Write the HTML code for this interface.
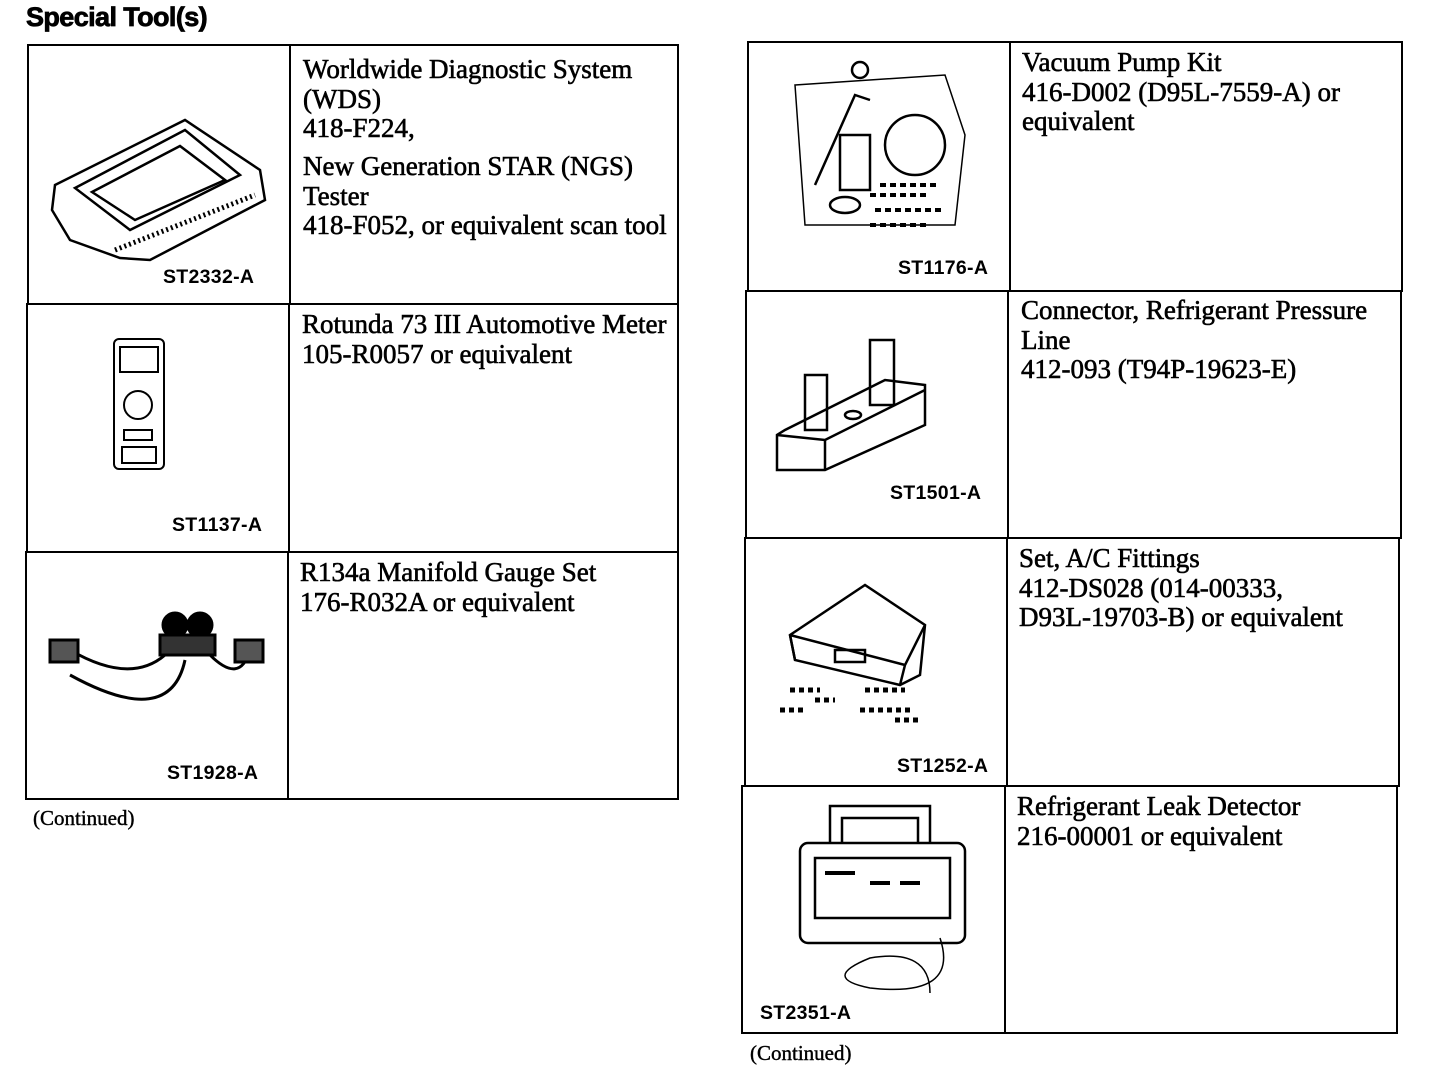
<!DOCTYPE html>
<html><head><meta charset="utf-8"><style>
body{margin:0;width:1440px;height:1090px;background:#fff;position:relative;overflow:hidden;font-family:"Liberation Serif",serif;color:#000}
.a{position:absolute}
.l{position:absolute;background:#000}
.t{position:absolute;font-size:27px;line-height:29.5px;letter-spacing:0px;-webkit-text-stroke:0.6px #000;white-space:nowrap}
.c{position:absolute;font-family:"Liberation Sans",sans-serif;font-weight:bold;font-size:19.5px;letter-spacing:0.3px}
.n{position:absolute;font-size:21px;-webkit-text-stroke:0.4px #000}
svg{position:absolute}
</style></head><body>
<div class="a" style="left:26px;top:2px;font-family:'Liberation Sans',sans-serif;font-weight:bold;font-size:27px;letter-spacing:-0.6px;-webkit-text-stroke:0.8px #000">Special Tool(s)</div>

<!-- left table -->
<div class="l" style="left:27px;top:44px;width:652px;height:2px"></div>
<div class="l" style="left:27px;top:303px;width:652px;height:2px"></div>
<div class="l" style="left:26px;top:551px;width:653px;height:2px"></div>
<div class="l" style="left:25px;top:798px;width:654px;height:2px"></div>
<div class="l" style="left:27px;top:44px;width:2px;height:260px"></div>
<div class="l" style="left:26px;top:303px;width:2px;height:250px"></div>
<div class="l" style="left:25px;top:551px;width:2px;height:249px"></div>
<div class="l" style="left:677px;top:44px;width:2px;height:756px"></div>
<div class="l" style="left:289px;top:44px;width:2px;height:260px"></div>
<div class="l" style="left:288px;top:303px;width:2px;height:250px"></div>
<div class="l" style="left:287px;top:551px;width:2px;height:249px"></div>

<div class="t" style="left:303px;top:55px">Worldwide Diagnostic System<br>(WDS)<br>418-F224,</div>
<div class="t" style="left:303px;top:152px">New Generation STAR (NGS)<br>Tester<br>418-F052, or equivalent scan tool</div>
<div class="t" style="left:302px;top:310px">Rotunda 73 III Automotive Meter<br>105-R0057 or equivalent</div>
<div class="t" style="left:300px;top:558px">R134a Manifold Gauge Set<br>176-R032A or equivalent</div>
<div class="c" style="left:163px;top:266px">ST2332-A</div>
<div class="c" style="left:172px;top:514px">ST1137-A</div>
<div class="c" style="left:167px;top:762px">ST1928-A</div>
<div class="n" style="left:33px;top:806px">(Continued)</div>

<svg style="left:40px;top:100px" width="230" height="170"><g fill="none" stroke="#000" stroke-width="2.5">
<path d="M15 85 L145 20 L220 70 L225 100 L110 160 L80 158 L30 140 L12 110 Z"/>
<path d="M35 88 L145 30 L200 75 L90 130 Z"/><path d="M52 92 L140 46 L185 80 L95 120 Z"/>
<path d="M75 150 L215 95" stroke-dasharray="2 3" stroke-width="5"/></g></svg>

<svg style="left:110px;top:335px" width="60" height="140"><g fill="none" stroke="#000" stroke-width="2">
<rect x="4" y="4" width="50" height="130" rx="5"/><rect x="10" y="12" width="38" height="25"/>
<circle cx="28" cy="70" r="14"/><rect x="14" y="95" width="28" height="10"/><rect x="12" y="112" width="34" height="16"/></g></svg>

<svg style="left:40px;top:590px" width="230" height="130"><g fill="none" stroke="#000" stroke-width="3">
<circle cx="135" cy="35" r="12" fill="#000"/><circle cx="160" cy="35" r="12" fill="#000"/>
<rect x="120" y="45" width="55" height="20" fill="#333"/>
<path d="M125 65 Q90 95 30 60"/><path d="M170 65 Q200 95 210 60"/><path d="M145 70 Q130 140 30 85"/>
<rect x="10" y="50" width="28" height="22" fill="#555"/><rect x="195" y="50" width="28" height="22" fill="#555"/></g></svg>

<!-- right table -->
<div class="l" style="left:747px;top:41px;width:656px;height:2px"></div>
<div class="l" style="left:746px;top:290px;width:656px;height:2px"></div>
<div class="l" style="left:744px;top:537px;width:657px;height:2px"></div>
<div class="l" style="left:743px;top:785px;width:656px;height:2px"></div>
<div class="l" style="left:741px;top:1032px;width:656px;height:2px"></div>
<div class="l" style="left:747px;top:41px;width:2px;height:251px"></div>
<div class="l" style="left:745px;top:290px;width:2px;height:249px"></div>
<div class="l" style="left:744px;top:537px;width:2px;height:250px"></div>
<div class="l" style="left:741px;top:785px;width:2px;height:249px"></div>
<div class="l" style="left:1401px;top:41px;width:2px;height:251px"></div>
<div class="l" style="left:1400px;top:290px;width:2px;height:249px"></div>
<div class="l" style="left:1398px;top:537px;width:2px;height:250px"></div>
<div class="l" style="left:1396px;top:785px;width:2px;height:249px"></div>
<div class="l" style="left:1009px;top:41px;width:2px;height:251px"></div>
<div class="l" style="left:1007px;top:290px;width:2px;height:249px"></div>
<div class="l" style="left:1006px;top:537px;width:2px;height:250px"></div>
<div class="l" style="left:1004px;top:785px;width:2px;height:249px"></div>

<div class="t" style="left:1022px;top:48px">Vacuum Pump Kit<br>416-D002 (D95L-7559-A) or<br>equivalent</div>
<div class="t" style="left:1021px;top:296px">Connector, Refrigerant Pressure<br>Line<br>412-093 (T94P-19623-E)</div>
<div class="t" style="left:1019px;top:544px">Set, A/C Fittings<br>412-DS028 (014-00333,<br>D93L-19703-B) or equivalent</div>
<div class="t" style="left:1017px;top:792px">Refrigerant Leak Detector<br>216-00001 or equivalent</div>
<div class="c" style="left:898px;top:257px">ST1176-A</div>
<div class="c" style="left:890px;top:482px">ST1501-A</div>
<div class="c" style="left:897px;top:755px">ST1252-A</div>
<div class="c" style="left:760px;top:1002px">ST2351-A</div>
<div class="n" style="left:750px;top:1041px">(Continued)</div>

<svg style="left:775px;top:55px" width="200" height="190"><g fill="none" stroke="#000" stroke-width="2.5">
<path d="M20 30 L170 20 L190 80 L180 170 L30 170 Z" stroke-width="1.5"/>
<path d="M40 130 L80 40 L95 45"/><circle cx="85" cy="15" r="8"/><rect x="65" y="80" width="30" height="55"/>
<circle cx="140" cy="90" r="30"/><ellipse cx="70" cy="150" rx="15" ry="8"/>
<path d="M95 140 h60 M100 155 h70 M95 170 h60 M105 130 h60" stroke-dasharray="6 4" stroke-width="4"/></g></svg>

<svg style="left:775px;top:335px" width="160" height="140"><g fill="none" stroke="#000" stroke-width="2.5">
<path d="M2 100 L2 135 L50 135 L150 90 L150 50 L110 45 L10 95 Z"/><path d="M2 100 L50 105 L150 55 M50 105 L50 135"/>
<rect x="30" y="40" width="22" height="55"/><rect x="95" y="5" width="24" height="65"/>
<ellipse cx="78" cy="80" rx="8" ry="4"/></g></svg>

<svg style="left:765px;top:570px" width="180" height="180"><g fill="none" stroke="#000" stroke-width="2.5">
<path d="M25 65 L100 15 L160 55 L155 105 L135 115 L30 90 Z"/><path d="M25 65 L30 90 M25 65 L140 95 L160 55 M140 95 L135 115"/>
<rect x="70" y="80" width="30" height="12"/>
<path d="M15 140 h25 M25 120 h30 M50 130 h20 M100 120 h40 M95 140 h50 M130 150 h25" stroke-dasharray="5 4" stroke-width="5"/></g></svg>

<svg style="left:790px;top:798px" width="190" height="210"><g fill="none" stroke="#000" stroke-width="2.5">
<rect x="10" y="45" width="165" height="100" rx="8"/><path d="M40 45 L40 8 L140 8 L140 45 M52 45 L52 20 L128 20 L128 45"/>
<rect x="25" y="60" width="135" height="60"/><path d="M35 75 h30 M80 85 h20 M110 85 h20" stroke-width="4"/>
<path d="M150 140 Q170 200 80 190 Q30 180 80 160 Q140 150 140 195" stroke-width="1.5"/></g></svg>
</body></html>
